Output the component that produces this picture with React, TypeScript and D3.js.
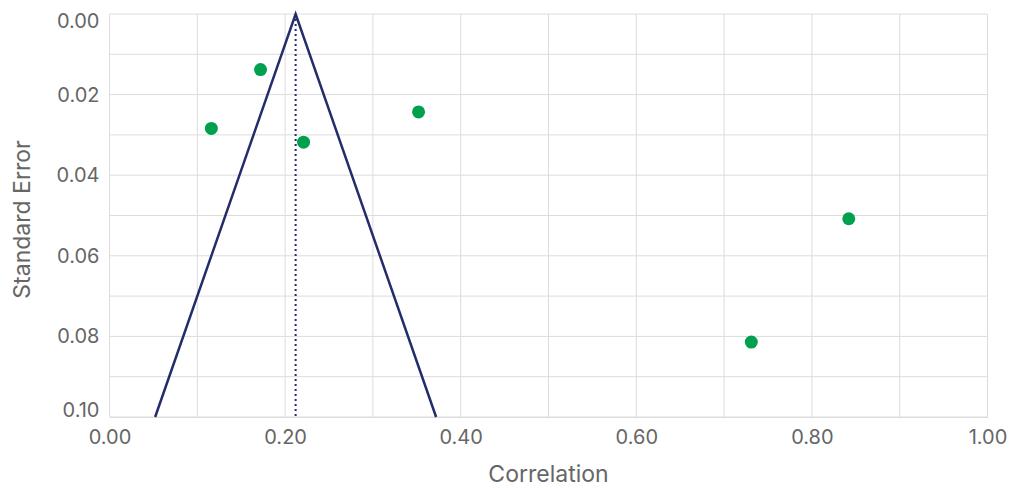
import { useEffect, useRef } from 'react'
import * as d3 from 'd3'

const W = 1009, H = 488
const M = { top: 14, right: 21.5, bottom: 71, left: 109.5 }

// studies: correlation and standard error
const correlations = [0.172, 0.116, 0.221, 0.352, 0.842, 0.731]
const standardErrors = [0.0138, 0.0284, 0.0318, 0.0243, 0.0508, 0.0814]
const pooledMean = 0.212
const funnelZ = 1.6
const xTicks = [0, 0.2, 0.4, 0.6, 0.8, 1.0]
const yTicks = [0, 0.02, 0.04, 0.06, 0.08, 0.1]

const FONT = 'Inter, "Noto Sans", sans-serif'
const NAVY = '#232d69'
const GREEN = '#00a04f'
const GRID = '#dcdcdc'
const TEXT = '#666'

export default function App() {
  const svgRef = useRef<SVGSVGElement>(null)

  useEffect(() => {
    const x = d3.scaleLinear([0, 1], [M.left, W - M.right])
    const y = d3.scaleLinear([0, 0.1], [M.top, H - M.bottom])

    const svg = d3.select(svgRef.current)
    svg.selectAll('*').remove()

    // grid
    const grid = svg.append('g').attr('stroke', GRID).attr('stroke-width', 1)
    d3.range(0, 11).forEach(i => {
      const v = x(i / 10)
      grid.append('line').attr('x1', v).attr('x2', v).attr('y1', y(0)).attr('y2', y(0.1))
    })
    d3.range(0, 11).forEach(i => {
      const v = y(i / 100)
      grid.append('line').attr('x1', x(0)).attr('x2', x(1)).attr('y1', v).attr('y2', v)
    })

    // axes
    const xAxis = svg.append('g')
      .attr('transform', `translate(0,${y(0.1)})`)
      .call(d3.axisBottom(x).tickValues(xTicks).tickFormat(d3.format('.2f')).tickSize(0).tickPadding(13))
    xAxis.select('.domain').attr('stroke', GRID)
    const yAxis = svg.append('g')
      .attr('transform', `translate(${x(0)},0)`)
      .call(d3.axisLeft(y).tickValues(yTicks).tickFormat(d3.format('.2f')).tickSize(0).tickPadding(10))
    yAxis.select('.domain').remove()
    // end labels sit inside the plot range
    yAxis.selectAll<SVGTextElement, number>('.tick text')
      .attr('transform', d => d === 0 ? 'translate(0,7)' : d === 0.1 ? 'translate(0,-7)' : null)
    svg.selectAll('.tick text')
      .attr('fill', TEXT).attr('font-family', FONT).attr('font-size', 20)

    // funnel
    const funnel = [
      [pooledMean - funnelZ * 0.1, 0.1],
      [pooledMean, 0],
      [pooledMean + funnelZ * 0.1, 0.1],
    ] as [number, number][]
    svg.append('path')
      .attr('d', d3.line<[number, number]>().x(d => x(d[0])).y(d => y(d[1]))(funnel))
      .attr('fill', 'none').attr('stroke', NAVY).attr('stroke-width', 2.5)

    // pooled mean line
    svg.append('line')
      .attr('x1', x(pooledMean)).attr('x2', x(pooledMean))
      .attr('y1', y(0)).attr('y2', y(0.1))
      .attr('stroke', NAVY).attr('stroke-width', 2).attr('stroke-dasharray', '2,3')

    // studies
    svg.append('g').selectAll('circle')
      .data(correlations)
      .join('circle')
      .attr('cx', d => x(d))
      .attr('cy', (_, i) => y(standardErrors[i]))
      .attr('r', 6.5)
      .attr('fill', GREEN)

    // titles
    svg.append('text')
      .attr('x', (x(0) + x(1)) / 2).attr('y', 482)
      .attr('text-anchor', 'middle')
      .attr('fill', TEXT).attr('font-family', FONT).attr('font-size', 23)
      .text('Correlation')
    svg.append('text')
      .attr('transform', `translate(30,${(y(0) + y(0.1)) / 2 + 4}) rotate(-90)`)
      .attr('text-anchor', 'middle')
      .attr('fill', TEXT).attr('font-family', FONT).attr('font-size', 23)
      .text('Standard Error')
  }, [])

  return (
    <svg
      ref={svgRef}
      width={W} height={H}
      viewBox={`0 0 ${W} ${H}`}
      style={{ position: 'absolute', left: 0, top: 0, background: '#fff' }}
    />
  )
}
